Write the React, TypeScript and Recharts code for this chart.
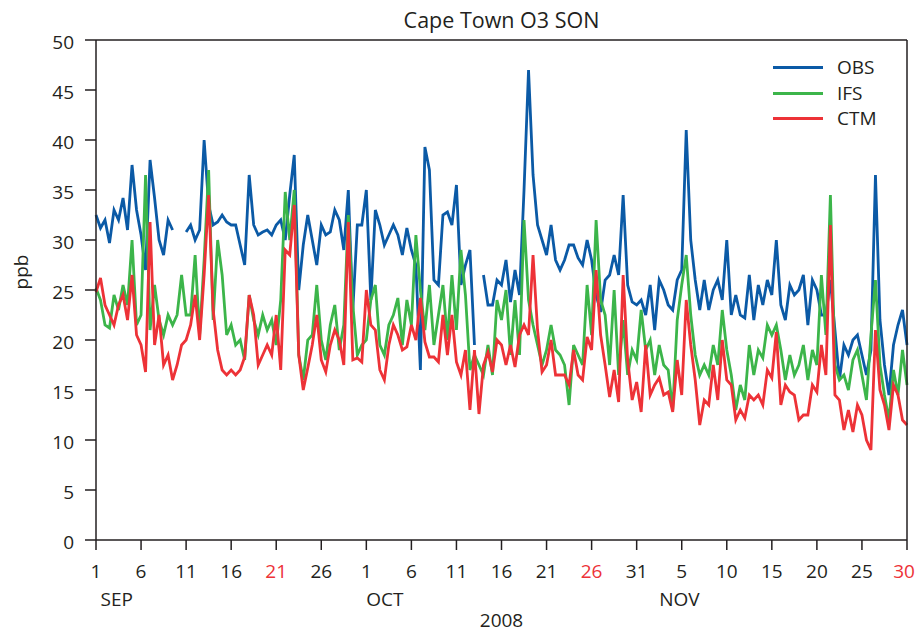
import React from 'react';
import { LineChart, Line, XAxis, YAxis, Legend } from 'recharts';

const FONT = '"Open Sans", "DejaVu Sans", sans-serif';
const TEXT = '#231f20';

const title = 'Cape Town O3 SON';
const yLabel = 'ppb';
const yearLabel = '2008';

// x positions in days since 1 Sep 2008 (two samples per day)
const dayTicks = [0, 5, 10, 15, 20, 25, 30, 35, 40, 45, 50, 55, 60, 65, 70, 75, 80, 85, 90];
const dayLabels = ['1', '6', '11', '16', '21', '26', '1', '6', '11', '16', '21', '26', '31', '5', '10', '15', '20', '25', '30'];
const redTickValues = [20, 55, 90];
const monthTicks = [0.5, 30, 62.5];
const monthLabels = ['SEP', 'OCT', 'NOV'];
const yTicks = [0, 5, 10, 15, 20, 25, 30, 35, 40, 45, 50];

const obs = [
  32.5, 31.2, 32.0, 29.7, 33.0, 32.0, 34.2, 31.0, 37.5, 33.0,
  30.5, 27.0, 38.0, 34.2, 30.0, 28.5, 32.0, 31.0, null, null,
  30.8, 31.5, 30.0, 31.0, 40.0, 33.5, 31.5, 31.8, 32.5, 31.8,
  31.5, 31.5, 29.5, 27.5, 36.5, 31.5, 30.5, 30.8, 31.0, 30.5,
  31.5, 32.0, 30.0, 34.5, 38.5, 25.0, 29.5, 32.5, 30.0, 27.5,
  31.5, 30.5, 30.8, 33.0, 32.0, 29.0, 35.0, 23.0, 31.5, 31.5,
  35.0, 24.0, 33.0, 31.5, 29.5, 30.5, 31.5, 30.5, 28.5, 31.2,
  29.0, 27.5, 17.0, 39.3, 37.0, 26.0, 25.5, 32.5, 32.8, 31.5,
  35.5, 25.5, 27.5, 29.0, 19.5, null, 26.5, 23.5, 23.5, 26.0,
  25.5, 28.0, 23.8, 27.0, 24.5, 35.0, 47.0, 36.5, 31.5, 30.0,
  28.5, 31.5, 28.0, 27.0, 28.0, 29.5, 29.5, 28.2, 27.5, 30.0,
  28.0, 24.5, 22.8, 26.0, 26.5, 28.5, 26.5, 34.5, 25.5, 23.8,
  23.5, 24.0, 22.5, 25.5, 21.0, 26.0, 25.0, 23.5, 23.0, 26.0,
  27.0, 41.0, 30.0, 26.0, 23.0, 26.0, 23.0, 25.0, 26.0, 24.0,
  30.0, 22.5, 24.5, 22.5, 22.2, 26.5, 22.0, 25.5, 23.5, 26.0,
  24.5, 30.0, 23.5, 22.0, 25.5, 24.5, 25.0, 26.5, 21.5, 26.0,
  25.0, 22.5, 22.5, 26.0, 21.0, 16.0, 19.5, 18.5, 20.0, 20.5,
  18.5, 16.5, 19.0, 36.5, 22.0, 17.5, 14.5, 19.5, 21.5, 23.0,
  19.5,
];

const ifs = [
  25.2, 24.0, 21.5, 21.2, 24.5, 23.0, 25.5, 23.5, 30.0, 21.5,
  22.5, 36.5, 21.0, 25.5, 22.0, 20.5, 22.5, 21.5, 22.5, 26.5,
  22.5, 22.5, 28.5, 20.5, 28.0, 37.0, 22.0, 30.0, 26.5, 20.5,
  21.5, 19.5, 20.0, 18.0, 24.5, 22.0, 20.5, 22.5, 21.0, 22.0,
  19.5, 24.0, 34.8, 30.0, 35.0, 18.5, 16.0, 20.0, 20.5, 25.5,
  20.0, 18.0, 21.5, 23.5, 19.0, 21.5, 32.5, 23.5, 18.5, 19.5,
  20.0, 24.0, 25.5, 19.5, 18.5, 21.5, 22.5, 24.2, 19.5, 24.0,
  21.5, 30.5, 25.0, 21.0, 25.5, 19.5, 22.5, 25.5, 20.0, 26.5,
  21.0, 29.0, 24.5, 17.0, 18.5, 17.5, 16.5, 19.5, 16.5, 24.0,
  22.0, 25.0, 18.5, 24.0, 18.5, 32.0, 24.0, 21.5, 19.5, 17.5,
  19.0, 21.5, 19.0, 18.5, 17.5, 13.5, 19.5, 18.5, 17.5, 25.5,
  20.5, 32.0, 24.0, 22.5, 17.5, 25.0, 16.5, 22.0, 16.5, 19.0,
  18.0, 23.0, 19.0, 20.0, 16.5, 19.5, 17.5, 17.0, 13.0, 22.0,
  25.5, 28.5, 22.5, 18.5, 16.5, 17.5, 16.5, 19.5, 17.5, 23.0,
  19.0, 16.5, 13.0, 15.5, 14.0, 19.5, 16.5, 19.0, 18.2, 21.5,
  20.5, 21.5, 19.0, 16.0, 18.5, 16.5, 17.5, 19.5, 16.0, 19.0,
  17.5, 26.5, 20.5, 34.5, 17.5, 16.0, 16.5, 15.0, 18.0, 19.0,
  16.5, 14.0, 20.5, 26.0, 17.5, 14.5, 12.0, 17.0, 14.5, 19.0,
  15.5,
];

const ctm = [
  24.8, 26.2, 23.5, 22.5, 21.5, 23.5, 24.5, 22.0, 26.5, 20.5,
  19.5, 16.8, 31.8, 19.5, 22.5, 17.5, 18.5, 16.0, 17.5, 19.5,
  20.0, 21.5, 24.5, 20.0, 26.5, 34.5, 23.0, 19.0, 17.0, 16.5,
  17.0, 16.5, 17.0, 18.3, 24.5, 22.5, 17.5, 18.5, 19.5, 18.5,
  22.5, 17.0, 29.0, 28.5, 33.5, 18.5, 15.0, 17.2, 19.5, 22.5,
  18.0, 16.8, 19.5, 21.0, 20.0, 17.5, 31.8, 18.0, 18.2, 17.8,
  25.0, 21.5, 21.0, 17.0, 16.0, 19.5, 21.5, 20.5, 19.0, 19.3,
  21.5, 20.0, 24.2, 19.8, 18.3, 18.3, 17.8, 22.5, 18.5, 22.5,
  17.8, 16.5, 19.0, 13.0, 19.0, 12.6, 17.5, 18.8, 16.8, 20.0,
  19.5, 17.5, 19.5, 17.3, 20.5, 21.5, 20.5, 28.5, 21.0, 16.8,
  17.5, 20.0, 16.5, 16.5, 16.5, 15.5, 19.0, 16.5, 16.0, 20.3,
  19.0, 27.0, 20.5, 17.5, 14.3, 17.0, 13.8, 26.5, 18.0, 14.0,
  15.8, 12.8, 19.5, 14.5, 15.5, 16.2, 14.5, 14.8, 12.8, 18.0,
  14.5, 24.0, 19.5, 16.0, 11.5, 14.0, 13.5, 17.5, 14.0, 20.0,
  16.0, 15.5, 12.0, 13.0, 12.2, 14.5, 14.0, 14.5, 13.5, 17.0,
  16.2, 20.8, 13.5, 15.5, 14.8, 14.5, 12.0, 12.5, 12.5, 15.5,
  14.8, 19.5, 16.5, 31.5, 14.5, 14.0, 11.0, 13.0, 10.8, 13.5,
  12.5, 10.0, 9.0, 21.0, 15.0, 13.5, 11.0, 15.5, 14.5, 12.0,
  11.5,
];

const seriesNames = ['OBS', 'IFS', 'CTM'];
const seriesColors = ['#0b5aa6', '#3cb54a', '#ed3237'];

const data = obs.map((v, i) => ({ day: i * 0.5, OBS: v, IFS: ifs[i], CTM: ctm[i] }));

const DayTick = (props: any) => {
  const { x, y, payload } = props;
  const idx = dayTicks.indexOf(payload.value);
  const isRed = redTickValues.includes(payload.value);
  const isLast = idx === dayTicks.length - 1;
  return (
    <text x={x} y={y} dx={isLast ? -3 : 0} dy="0.71em" textAnchor="middle" fontSize={19} fontFamily={FONT} fill={isRed ? '#ed3237' : TEXT}>
      {idx >= 0 ? dayLabels[idx] : ''}
    </text>
  );
};

const MonthTick = (props: any) => {
  const { x, y, payload } = props;
  const idx = monthTicks.indexOf(payload.value);
  return (
    <text x={x} y={y} dy="0.71em" textAnchor="start" fontSize={19} fontFamily={FONT} fill={TEXT}>
      {idx >= 0 ? monthLabels[idx] : ''}
    </text>
  );
};

const ValueTick = (props: any) => {
  const { x, y, payload } = props;
  return (
    <text x={x} y={y} dy={9} textAnchor="end" fontSize={19} fontFamily={FONT} fill={TEXT}>
      {payload.value}
    </text>
  );
};

const TitleLabel = (props: any) => {
  const vb = props.viewBox || { x: 96, y: 0, width: 811, height: 40 };
  return (
    <text x={vb.x + vb.width / 2} y={vb.y + 28} textAnchor="middle" fontSize={21.5} fontFamily={FONT} fill={TEXT}>
      {title}
    </text>
  );
};

const YearLabel = (props: any) => {
  const vb = props.viewBox || { x: 96, y: 588, width: 811, height: 44 };
  return (
    <text x={vb.x + vb.width / 2} y={vb.y + 39} textAnchor="middle" fontSize={19} fontFamily={FONT} fill={TEXT}>
      {yearLabel}
    </text>
  );
};

const YLabel = (props: any) => {
  const vb = props.viewBox || { x: 0, y: 40, width: 96, height: 500 };
  const cx = vb.x + 28;
  const cy = vb.y + vb.height / 2 - 18;
  return (
    <text x={cx} y={cy} transform={`rotate(-90, ${cx}, ${cy})`} textAnchor="middle" fontSize={19} fontFamily={FONT} fill={TEXT}>
      {yLabel}
    </text>
  );
};

const renderLegend = () => (
  <div style={{ fontFamily: FONT, fontSize: 19, color: TEXT }}>
    {seriesNames.map((n, i) => (
      <div key={n} style={{ display: 'flex', alignItems: 'center', height: 25.5 }}>
        <span style={{ display: 'inline-block', width: 50, height: 3, background: seriesColors[i], marginRight: 14 }} />
        <span style={{ lineHeight: '25px' }}>{n}</span>
      </div>
    ))}
  </div>
);

const axisStroke = { stroke: TEXT, strokeWidth: 1.5 };

export default function App() {
  return (
    <div style={{ position: 'absolute', left: 0, top: 0, width: 916, height: 632, background: '#fff' }}>
      <LineChart width={916} height={632} data={data} margin={{ top: 0, right: 0, bottom: 0, left: 0 }}>
        <XAxis
          xAxisId="top"
          orientation="top"
          dataKey="day"
          type="number"
          domain={[0, 90]}
          height={40}
          tick={false}
          tickLine={false}
          axisLine={axisStroke}
          label={{ content: TitleLabel }}
        />
        <XAxis
          xAxisId="main"
          dataKey="day"
          type="number"
          domain={[0, 90]}
          ticks={dayTicks}
          interval={0}
          height={48}
          tickSize={10}
          tickMargin={15}
          axisLine={axisStroke}
          tickLine={axisStroke}
          tick={<DayTick />}
        />
        <XAxis
          xAxisId="month"
          dataKey="day"
          type="number"
          domain={[0, 90]}
          ticks={monthTicks}
          interval={0}
          height={44}
          tickSize={0}
          tickMargin={5}
          axisLine={false}
          tickLine={false}
          tick={<MonthTick />}
          label={{ content: YearLabel }}
        />
        <YAxis
          yAxisId="left"
          domain={[0, 50]}
          ticks={yTicks}
          interval={0}
          width={96}
          tickSize={11}
          tickMargin={11}
          axisLine={axisStroke}
          tickLine={axisStroke}
          tick={<ValueTick />}
          label={{ content: YLabel }}
        />
        <YAxis
          yAxisId="right"
          orientation="right"
          domain={[0, 50]}
          width={9}
          tick={false}
          tickLine={false}
          axisLine={axisStroke}
        />
        <Legend
          layout="vertical"
          align="center"
          verticalAlign="middle"
          content={renderLegend}
          wrapperStyle={{ top: 55, left: 773, width: 130, bottom: 'auto', right: 'auto' }}
        />
        {seriesNames.map((n, i) => (
          <Line
            key={n}
            xAxisId="main"
            yAxisId="left"
            type="linear"
            dataKey={n}
            stroke={seriesColors[i]}
            strokeWidth={2.8}
            dot={false}
            activeDot={false}
            isAnimationActive={false}
            connectNulls={false}
          />
        ))}
      </LineChart>
    </div>
  );
}
